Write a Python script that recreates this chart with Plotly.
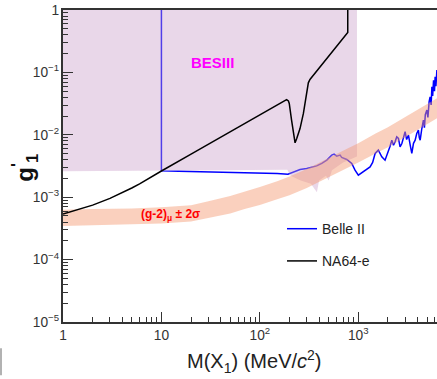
import plotly.graph_objects as go

# ---------------- data ----------------
# Belle II (blue)
belle_mass = [10, 10, 15, 30, 60, 100, 150, 193, 202, 228, 256, 299, 340, 378, 426, 479, 537, 568,
              604, 653, 679, 764, 859, 927, 1002, 1127, 1318, 1400, 1483, 1600, 1734, 1871, 2023,
              2100, 2193, 2280, 2366, 2460, 2559, 2660, 2773, 2880, 2992, 3100, 3236, 3360, 3499,
              3640, 3784, 3930, 4083, 4170, 4256, 4420, 4592, 4700, 4800, 4977, 5100, 5250, 5370,
              5500, 5598, 5700, 5820, 5950, 6039, 6150, 6295]
belle_g = [1.0, 2.64e-3, 2.6e-3, 2.55e-3, 2.5e-3, 2.45e-3, 2.4e-3, 2.34e-3, 2.40e-3, 2.64e-3,
           2.78e-3, 2.88e-3, 3.0e-3, 3.18e-3, 3.48e-3, 3.93e-3, 4.72e-3, 4.90e-3, 4.55e-3, 4.72e-3,
           4.34e-3, 4.03e-3, 3.47e-3, 2.71e-3, 2.25e-3, 2.55e-3, 3.06e-3, 3.6e-3, 5.02e-3, 5.68e-3,
           4.43e-3, 3.92e-3, 5.33e-3, 6.5e-3, 8.2e-3, 6.8e-3, 7.71e-3, 9.3e-3, 8.75e-3, 6.4e-3,
           7.26e-3, 9.5e-3, 0.0112, 8.4e-3, 9.89e-3, 7.0e-3, 5.02e-3, 7.3e-3, 8.2e-3, 0.0105,
           0.0119, 9.0e-3, 8.2e-3, 0.0125, 0.0172, 0.013, 0.021, 0.0249, 0.019, 0.034, 0.0406,
           0.03, 0.0587, 0.042, 0.075, 0.05, 0.0851, 0.06, 0.109]

# NA64-e (black)
na64_mass = [1, 1.5, 2, 3, 4, 5, 6, 7, 8, 9, 10, 20, 50, 100, 150, 170, 187, 195, 199, 210, 222,
             228, 237, 256, 277, 294, 311, 323, 782, 782]
na64_g = [5.37e-4, 6.40e-4, 7.46e-4, 9.59e-4, 1.178e-3, 1.403e-3, 1.633e-3, 1.872e-3, 2.118e-3,
          2.369e-3, 2.63e-3, 4.91e-3, 0.0112, 0.0209, 0.0301, 0.0337, 0.0367, 0.035, 0.0318,
          0.0172, 0.00927, 0.00743, 0.0087, 0.0126, 0.022, 0.0406, 0.068, 0.077, 0.438, 1.0]

# BESIII excluded region
besiii_mass = [1, 10, 100, 190, 205, 260, 330, 380, 400, 470, 500, 540, 700, 970]
besiii_low = [2.6e-3, 2.65e-3, 2.75e-3, 2.75e-3, 2.2e-3, 1.85e-3, 1.65e-3, 1.2e-3, 1.85e-3,
              2.2e-3, 1.85e-3, 2.7e-3, 3.6e-3, 4.5e-3]
besiii_high = [1.0] * len(besiii_mass)

# (g-2)_mu +- 2 sigma band
band_mass = [1, 2, 5, 10, 20, 30, 50, 70, 100, 150, 200, 300, 500, 700, 1000, 1500, 2000, 3000, 5000, 7000]
band_low = [3.47e-4, 3.55e-4, 3.63e-4, 3.80e-4, 4.07e-4, 4.62e-4, 5.50e-4, 6.46e-4, 7.50e-4,
            9.23e-4, 1.07e-3, 1.41e-3, 2.07e-3, 2.72e-3, 3.59e-3, 5.01e-3, 6.31e-3, 9.12e-3,
            0.01479, 0.02042]
band_high = [6.31e-4, 6.46e-4, 6.61e-4, 6.92e-4, 7.41e-4, 8.61e-4, 1.05e-3, 1.23e-3, 1.46e-3,
             1.80e-3, 2.14e-3, 2.82e-3, 4.22e-3, 5.56e-3, 7.33e-3, 0.01047, 0.01318, 0.01905,
             0.03090, 0.04266]

FONT = "Liberation Sans, Arial, sans-serif"

fig = go.Figure()

fig.add_trace(go.Scatter(x=belle_mass, y=belle_g, mode="lines", name="Belle II",
                         line=dict(color="#0000ff", width=1.5), legendgroup="a"))

fig.add_trace(go.Scatter(x=besiii_mass + besiii_mass[::-1], y=besiii_low + besiii_high[::-1],
                         mode="lines", fill="toself", fillcolor="rgba(200,155,200,0.4)",
                         line=dict(width=0), showlegend=False, hoverinfo="skip"))

fig.add_trace(go.Scatter(x=band_mass + band_mass[::-1], y=band_low + band_high[::-1],
                         mode="lines", fill="toself", fillcolor="rgba(244,150,110,0.45)",
                         line=dict(width=0), showlegend=False, hoverinfo="skip"))

fig.add_trace(go.Scatter(x=na64_mass, y=na64_g, mode="lines", name="NA64-e",
                         line=dict(color="#000000", width=1.5), legendgroup="b"))

axis_common = dict(
    type="log", dtick=1, ticks="inside", ticklen=10, tickwidth=1.2, tickcolor="#333",
    showgrid=False, zeroline=False, showline=True, linecolor="#333", linewidth=1.5,
    exponentformat="power", tickfont=dict(family=FONT, size=11, color="#333"),
    automargin=False,
    minor=dict(dtick="D1", ticks="inside", ticklen=5, tickwidth=1, tickcolor="#333", showgrid=False),
)

fig.update_xaxes(range=[0, 3.80], mirror=True, **axis_common)
fig.update_yaxes(range=[-5, 0], **axis_common)

fig.update_layout(
    width=437, height=379,
    margin=dict(l=63, r=0, t=10, b=57, autoexpand=False),
    plot_bgcolor="white", paper_bgcolor="white",
    font=dict(family=FONT),
    showlegend=True,
    legend=dict(x=0.5856, y=0.349, xanchor="left", yanchor="top", bgcolor="rgba(0,0,0,0)",
                font=dict(family=FONT, size=14, color="#222"), tracegroupgap=11),
    annotations=[
        dict(x=1.518, y=-0.842, xref="x", yref="y", text="<b>BESIII</b>", showarrow=False,
             font=dict(family=FONT, size=15, color="#ff00ff")),
        dict(x=1.096, y=-3.29, xref="x", yref="y", text="<b>(g-2)<sub>μ</sub> ± 2σ</b>",
             showarrow=False, font=dict(family=FONT, size=12, color="#ff0000")),
        dict(x=(25 - 63) / 374, y=(321.7 - 167.5) / 311.7, xref="paper", yref="paper",
             xanchor="center", yanchor="middle",
             text="<b>g<sup>'</sup><sub>1</sub></b>",
             textangle=-90, showarrow=False, font=dict(family=FONT, size=24, color="#111")),
        dict(x=(254 - 63) / 374, y=(321.7 - 361) / 311.7, xref="paper", yref="paper",
             xanchor="center", yanchor="middle",
             text="M(X<sub>1</sub>) (MeV/<i>c</i><sup>2</sup>)", showarrow=False,
             font=dict(family=FONT, size=20, color="#222")),
    ],
    shapes=[dict(type="line", xref="paper", yref="paper", x0=(1 - 63) / 374, x1=(1 - 63) / 374,
                 y0=(321.7 - 348) / 311.7, y1=(321.7 - 375) / 311.7,
                 line=dict(color="#999", width=1.5))],
)

fig.write_html("out.html", config={"displayModeBar": False},
               post_script="document.body.style.margin='0';document.body.style.overflow='hidden';")
